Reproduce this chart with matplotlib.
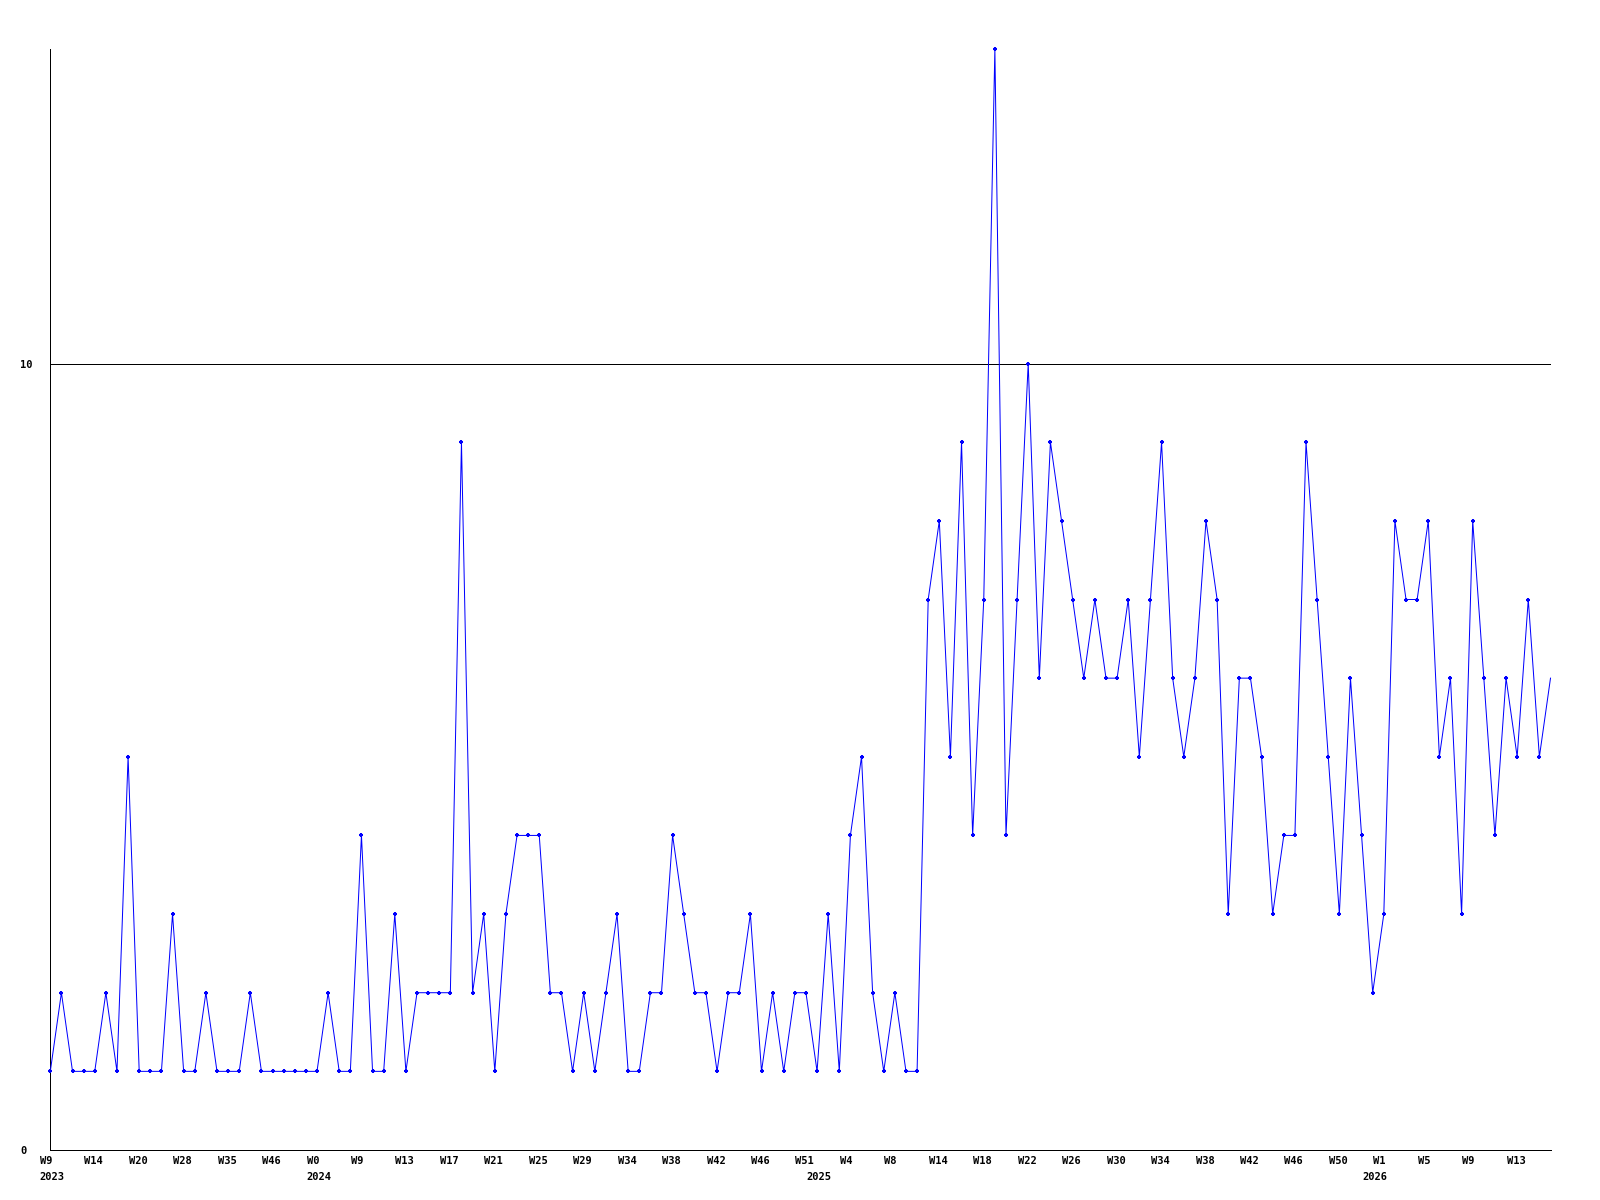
"""周计数折线图

复刻 2023-2026 每周计数的折线图（gnuplot 风格）
"""

import matplotlib

matplotlib.use("Agg")
import matplotlib.pyplot as plt
import matplotlib.transforms as mtransforms
import numpy as np

# 每个点一周的计数
counts = [
    1, 2, 1, 1, 1, 2, 1, 5, 1, 1, 1, 3, 1, 1, 2, 1, 1, 1, 2, 1,
    1, 1, 1, 1, 1, 2, 1, 1, 4, 1, 1, 3, 1, 2, 2, 2, 2, 9, 2, 3,
    1, 3, 4, 4, 4, 2, 2, 1, 2, 1, 2, 3, 1, 1, 2, 2, 4, 3, 2, 2,
    1, 2, 2, 3, 1, 2, 1, 2, 2, 1, 3, 1, 4, 5, 2, 1, 2, 1, 1, 7,
    8, 5, 9, 4, 7, 14, 4, 7, 10, 6, 9, 8, 7, 6, 7, 6, 6, 7, 5, 7,
    9, 6, 5, 6, 8, 7, 3, 6, 6, 5, 3, 4, 4, 9, 7, 5, 3, 6, 4, 2,
    3, 8, 7, 7, 8, 5, 6, 3, 8, 6, 4, 6, 5, 7, 5, 6,
]

# 每 4 个点一个周标签
week_labels = [
    "W9", "W14", "W20", "W28", "W35", "W46", "W0", "W9", "W13", "W17",
    "W21", "W25", "W29", "W34", "W38", "W42", "W46", "W51", "W4", "W8",
    "W14", "W18", "W22", "W26", "W30", "W34", "W38", "W42", "W46", "W50",
    "W1", "W5", "W9", "W13",
]

# 年份标签及其所在点的序号
years = ["2023", "2024", "2025", "2026"]
year_index = [0, 24, 69, 119]

FONT = {"family": "DejaVu Sans Mono", "weight": "bold", "size": 7.5}
LINE_COLOR = "#0000ff"
PX = 0.72  # 1 像素对应的磅数 (dpi=100)

x = np.arange(len(counts))

fig = plt.figure(figsize=(16, 12), dpi=100, facecolor="white")
ax = fig.add_axes([50.3 / 1600, 50 / 1200, 1500.2 / 1600, 1101 / 1200])
ax.set_facecolor("white")

# 最后一个点没有标记
ax.plot(
    x,
    counts,
    color=LINE_COLOR,
    linewidth=PX,
    marker="+",
    markersize=3.5,
    markeredgewidth=1.5,
    markevery=list(range(len(counts) - 1)),
    clip_on=False,
    zorder=3,
)

ax.set_xlim(0, len(counts) - 1)
ax.set_ylim(0, max(counts))

for side in ("top", "right"):
    ax.spines[side].set_visible(False)
for side in ("left", "bottom"):
    ax.spines[side].set_color("black")
    ax.spines[side].set_linewidth(PX)

# y 轴：只有 0 和 10，10 处一条横线
ax.set_yticks([0, 10])
ax.set_yticklabels(["0", "10"], fontdict=FONT, ha="left")
ax.tick_params(axis="y", length=0, pad=30.3 * PX)
ax.axhline(10, color="black", linewidth=PX, zorder=2)

# x 轴：周标签，左对齐并略向左偏移
week_ticks = x[::4][: len(week_labels)]
ax.set_xticks(week_ticks)
ax.set_xticklabels(week_labels, fontdict=FONT, ha="left")
ax.tick_params(axis="x", length=0, pad=4.0)
offset = mtransforms.ScaledTranslation(-10.5 / 100, 0, fig.dpi_scale_trans)
for label in ax.get_xticklabels():
    label.set_transform(label.get_transform() + offset)

# 年份标签
for year, idx in zip(years, year_index, strict=True):
    ax.annotate(
        year,
        xy=(idx, 0),
        xycoords=("data", "axes fraction"),
        xytext=(-10.5 * PX, -27 * PX),
        textcoords="offset points",
        ha="left",
        va="center",
        annotation_clip=False,
        **FONT,
    )

fig.savefig("out.png", dpi=100, facecolor="white")
plt.close(fig)
